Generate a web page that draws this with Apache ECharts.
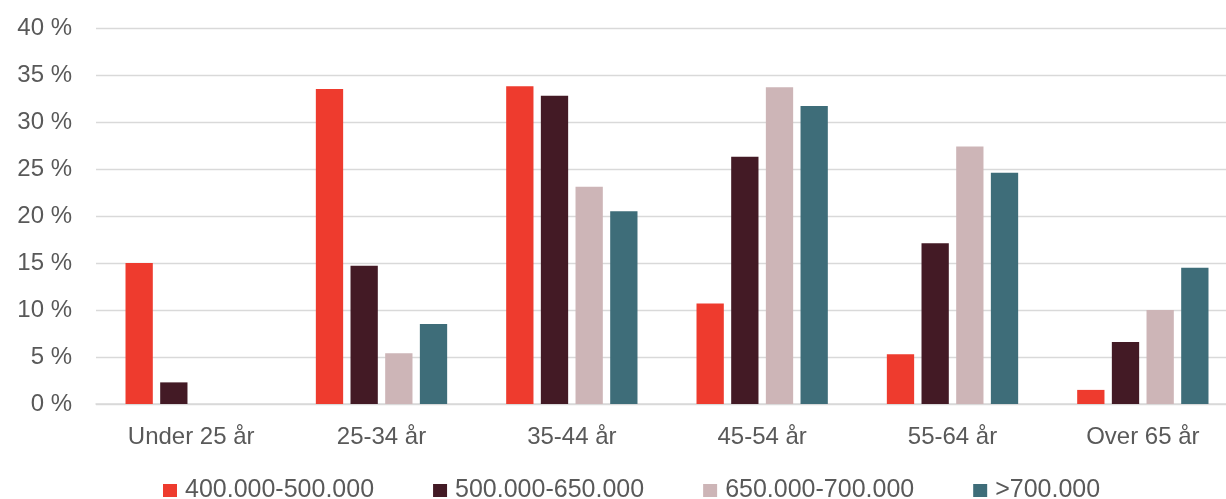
<!DOCTYPE html>
<html>
<head>
<meta charset="utf-8">
<script src="https://cdn.jsdelivr.net/npm/echarts@6/dist/echarts.min.js"></script>
<style>
html,body{margin:0;padding:0;background:#fff;overflow:hidden;width:1226px;height:499px;}
#chart{width:1250px;height:499px;}
</style>
</head>
<body>
<div id="chart"></div>
<script>
const categories = ['Under 25 år', '25-34 år', '35-44 år', '45-54 år', '55-64 år', 'Over 65 år'];
const seriesNames = ['400.000-500.000', '500.000-650.000', '650.000-700.000', '>700.000'];
const s400_500 = [15.0, 33.5, 33.8, 10.7, 5.3, 1.5];
const s500_650 = [2.3, 14.7, 32.8, 26.3, 17.1, 6.6];
const s650_700 = [0, 5.4, 23.1, 33.7, 27.4, 10.0];
const s700plus = [0, 8.5, 20.5, 31.7, 24.6, 14.5];
const colors = ['#EE3B2E', '#431A25', '#CDB5B7', '#3E6D79'];

const allData = [s400_500, s500_650, s650_700, s700plus];
const font = 'Liberation Sans, Arial, sans-serif';

const chart = echarts.init(document.getElementById('chart'), null, {renderer: 'canvas'});
chart.setOption({
  animation: false,
  backgroundColor: '#ffffff',
  color: colors,
  grid: {left: 96, top: 28, width: 1142, height: 376, containLabel: false},
  legend: {
    left: 163,
    top: 478,
    padding: 0,
    itemWidth: 14,
    itemHeight: 13,
    itemGap: 59,
    icon: 'rect',
    textStyle: {color: '#595959', fontSize: 25, fontFamily: font, padding: [0, 0, 0, 3]},
    data: seriesNames
  },
  xAxis: {
    type: 'category',
    data: categories,
    axisLine: {lineStyle: {color: '#D9D9D9', width: 1.5}},
    axisTick: {show: false},
    axisLabel: {color: '#595959', fontSize: 24, fontFamily: font, margin: 21}
  },
  yAxis: {
    type: 'value',
    min: 0,
    max: 40,
    interval: 5,
    axisLine: {show: false},
    axisTick: {show: false},
    splitLine: {lineStyle: {color: '#D9D9D9', width: 1.3}},
    axisLabel: {color: '#595959', fontSize: 24, fontFamily: font, margin: 24, formatter: '{value} %', padding: [0, 0, 4, 0]}
  },
  series: seriesNames.map((name, i) => ({
    name: name,
    type: 'bar',
    data: allData[i],
    barWidth: 27.3,
    barGap: '27%',
    itemStyle: {color: colors[i]}
  }))
});
</script>
</body>
</html>
